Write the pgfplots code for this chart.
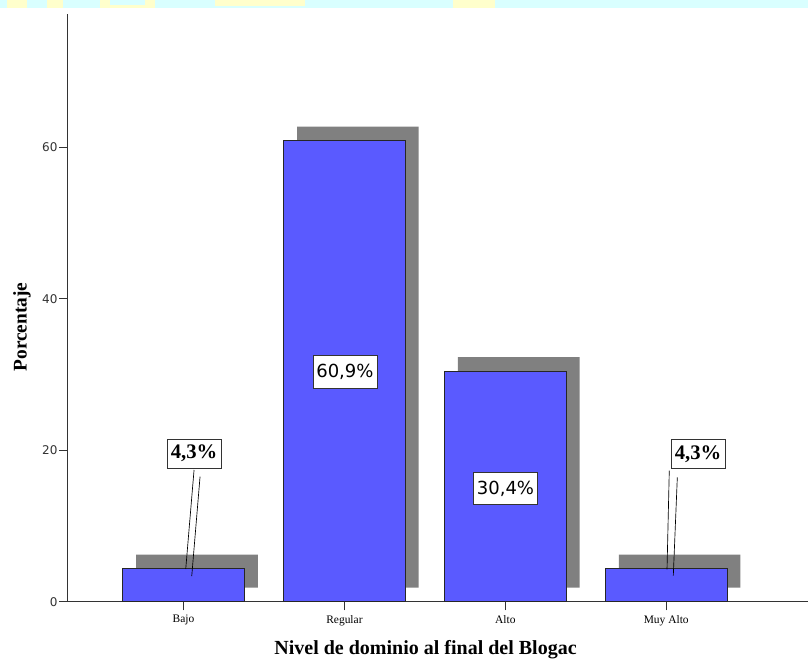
\documentclass[border=0pt]{standalone}
\usepackage{fontspec}
\setmainfont{Liberation Serif}
\newfontfamily\tahoma{DejaVu Sans}
\usepackage{pgfplots}
\usepackage{pgfplotstable}
\pgfplotsset{compat=1.18}

\definecolor{barblue}{HTML}{5A5AFF}
\definecolor{shadowgray}{HTML}{808080}
\definecolor{stripcyan}{HTML}{D9FFFF}
\definecolor{stripyellow}{HTML}{FFFFCC}

% porcentaje por nivel (n = 23)
\pgfplotstableread{
x val
1 4.35
2 60.87
3 30.43
4 4.35
}\niveles

% pixel of the reference -> picture coordinate
\newcommand\px[2]{({(#1-67.7)*0.75pt},{(601.7-#2)*0.75pt})}

\pgfplotsset{base/.style={
    at={(0,0)}, anchor=south west, scale only axis,
    width=555.2pt, height=440.55pt,
    xmin=0.280, xmax=4.881, ymin=0, ymax=77.56,
    bar width=91.2pt,
}}

\begin{document}
\begin{tikzpicture}
\useasboundingbox \px{0}{0} rectangle \px{808}{661};
\fill[white] \px{0}{0} rectangle \px{808}{661};
% watermark strip at the top
\fill[stripcyan] \px{0}{0} rectangle \px{808}{8};
\begin{scope}
  \clip \px{0}{0} rectangle \px{808}{8};
  \fill[stripyellow] \px{7}{-4} rectangle \px{27}{8};
  \fill[stripyellow] \px{47}{-4} rectangle \px{63}{8};
  \fill[stripyellow] \px{100}{-4} rectangle \px{155}{8};
  \fill[stripcyan] \px{110}{-4} rectangle \px{145}{5};
  \fill[stripyellow] \px{215}{-4} rectangle \px{305}{6};
  \fill[stripyellow] \px{453}{-4} rectangle \px{495}{8};
\end{scope}

% shadows
\begin{axis}[base, hide axis, ybar stacked, bar shift=10.1pt]
\addplot[draw=none, fill=none] coordinates {(1,1.85) (2,1.85) (3,1.85) (4,1.85)};
\addplot[draw=none, fill=shadowgray] table[x=x, y=val] {\niveles};
\end{axis}

% bars and axes
\begin{axis}[base, ybar, bar shift=0pt, clip=false,
    axis x line*=bottom, axis y line*=left,
    axis line style={black!80, line width=0.8pt, -},
    tick align=outside, major tick length=6.5pt,
    tick style={black!80, line width=0.8pt},
    xtick={1,2,3,4},
    xticklabels={Bajo, Regular, Alto, Muy Alto},
    ytick={0,20,40,60},
    /pgf/number format/assume math mode=true,
    xticklabel style={font=\fontsize{8.6}{10}\selectfont},
    yticklabel style={font=\tahoma\fontsize{9}{11}\selectfont, black!80, inner sep=1pt},
]
\addplot[fill=barblue, draw=black!85, line width=0.6pt] table[x=x, y=val] {\niveles};

% leader lines
\draw[black, line width=0.5pt] (axis cs:1.0653,17.39) -- (axis cs:1.0137,4.32);
\draw[black, line width=0.5pt] (axis cs:1.1026,16.51) -- (axis cs:1.0510,3.39);
\draw[black, line width=0.5pt] (axis cs:4.019,17.30) -- (axis cs:4.005,4.28);
\draw[black, line width=0.5pt] (axis cs:4.069,16.43) -- (axis cs:4.044,3.43);

% data labels
\node[draw=black!80, fill=white, line width=0.6pt, inner sep=1pt,
      minimum width=40.5pt, minimum height=21.75pt,
      font=\bfseries\fontsize{15.5}{16}\selectfont] at (axis cs:1.065,19.57) {4,3\%};
\node[draw=black!80, fill=white, line width=0.6pt, inner sep=1pt,
      minimum width=40.5pt, minimum height=21.75pt,
      font=\bfseries\fontsize{15.5}{16}\selectfont] at (axis cs:4.198,19.5) {4,3\%};
\node[draw=black!80, fill=white, line width=0.6pt, inner sep=1pt,
      minimum width=48pt, minimum height=24.5pt,
      font=\tahoma\fontsize{13.5}{14}\selectfont] at (axis cs:2.003,30.3) {60,9\%};
\node[draw=black!80, fill=white, line width=0.6pt, inner sep=1pt,
      minimum width=48.5pt, minimum height=23.5pt,
      font=\tahoma\fontsize{13.5}{14}\selectfont] at (axis cs:3.001,14.95) {30,4\%};

% axis titles
\node[font=\bfseries\fontsize{15}{18}\selectfont] at (axis cs:2.504,-6.38)
     {Nivel de dominio al final del Blogac};
\node[rotate=90, font=\bfseries\fontsize{14.5}{18}\selectfont] at (axis cs:-0.004,36.27)
     {Porcentaje};
\end{axis}
\end{tikzpicture}
\end{document}
